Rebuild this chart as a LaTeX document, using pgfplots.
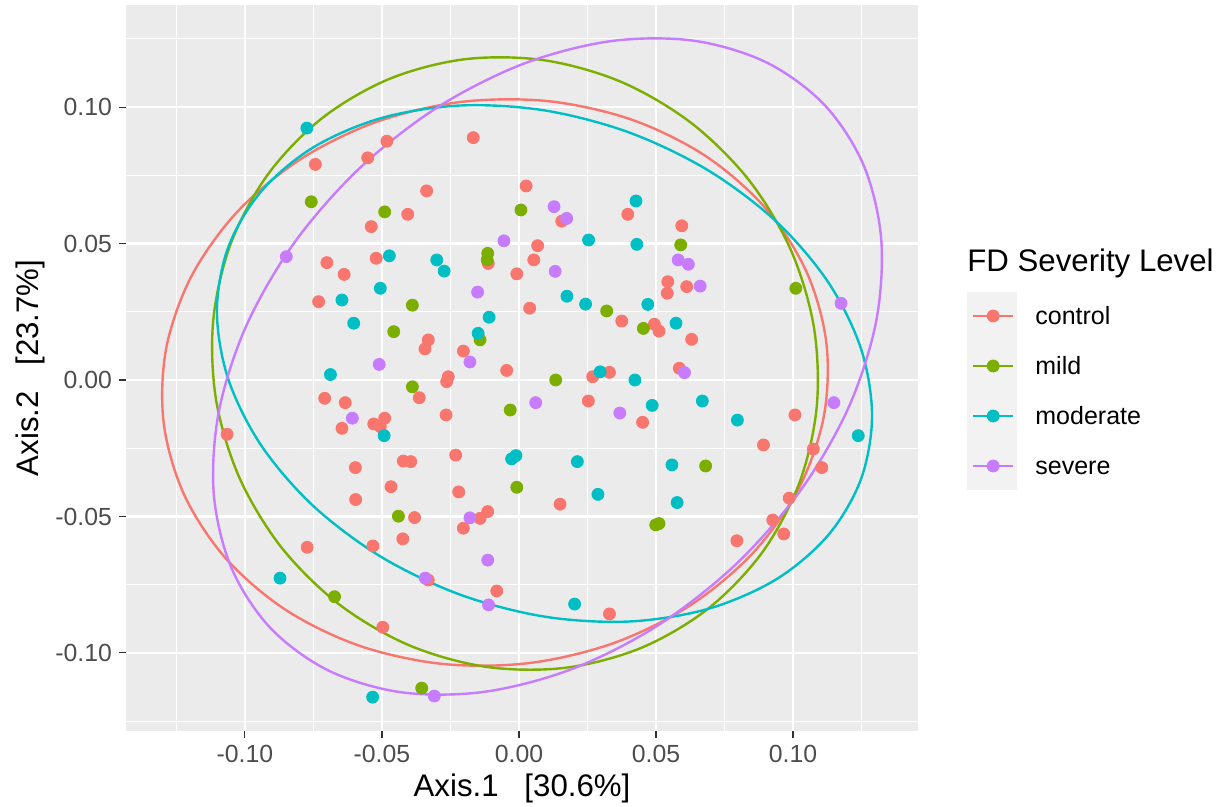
\documentclass[border=0pt]{standalone}
\usepackage{pgfplots}
\pgfplotsset{compat=1.18}
\usepackage{fontspec}
\setmainfont{Liberation Sans}
\definecolor{cCtrl}{HTML}{F8766D}
\definecolor{cMild}{HTML}{7CAE00}
\definecolor{cMod}{HTML}{00BFC4}
\definecolor{cSev}{HTML}{C77CFF}
\definecolor{panelbg}{HTML}{EBEBEB}
\definecolor{grey30}{HTML}{4D4D4D}
\definecolor{grey20}{HTML}{333333}
\definecolor{keybg}{HTML}{F2F2F2}
\begin{document}
\begin{tikzpicture}
\useasboundingbox (-63pt,-38pt) rectangle (549.5pt,365.5pt);
\fill[keybg] (420.5pt,120.5pt) rectangle (445.5pt,219.5pt);
\node[anchor=base west, inner sep=0pt, font=\fontsize{15.6}{18}\selectfont] at (420.5pt,229.6pt) {FD Severity Level};
\begin{axis}[
  scale only axis, width=396pt, height=363pt,
  xmin=-0.1434, xmax=0.1456, ymin=-0.1286, ymax=0.1374,
  axis background/.style={fill=panelbg},
  axis line style={draw=none},
  xtick={-0.1,-0.05,0,0.05,0.1}, ytick={-0.1,-0.05,0,0.05,0.1},
  minor xtick={-0.125,-0.075,-0.025,0.025,0.075,0.125},
  minor ytick={-0.125,-0.075,-0.025,0.025,0.075,0.125},
  grid=both,
  major grid style={white, line width=1.1pt},
  minor grid style={white, line width=0.55pt},
  tick align=outside, tick pos=left,
  major tick length=3.5pt, minor tick length=0pt,
  major tick style={grey20, line width=0.55pt},
  ticklabel style={font=\fontsize{12.4}{14}\selectfont, text=grey30},
  xticklabel style={/pgf/number format/fixed, /pgf/number format/fixed zerofill, /pgf/number format/precision=2, /pgf/number format/assume math mode=true},
  yticklabel style={/pgf/number format/fixed, /pgf/number format/fixed zerofill, /pgf/number format/precision=2, /pgf/number format/assume math mode=true},
  xlabel={Axis.1\hspace{0.83em}[30.6\%]},
  ylabel={Axis.2\hspace{0.83em}[23.7\%]},
  label style={font=\fontsize{15.6}{18}\selectfont},
  xlabel style={at={(axis description cs:0.5,0)}, anchor=base, yshift=-33pt, inner sep=0pt},
  ylabel style={at={(axis description cs:0,0.5)}, anchor=center, rotate=0, yshift=48pt, inner sep=0pt},
  legend cell align=left,
  legend style={at={(axis description cs:1.06818,0.58953)}, anchor=north west, draw=none, fill=none,
    inner sep=0pt, outer sep=0pt, row sep=12pt, column sep=10.5pt,
    font=\fontsize{12.5}{15}\selectfont,
    nodes={inner sep=0pt, text height=11pt, text depth=2pt}},
  legend image code/.code={\draw[mark repeat=2,mark phase=2,#1] plot coordinates {(0pt,0pt) (10pt,0pt) (20pt,0pt)};},
  pts/.style={only marks, mark=*, mark size=3.0pt, mark options={line width=0.4pt}, forget plot},
  ell/.style={line width=1.2pt, smooth cycle, tension=0.55, legend image post style={sharp plot, mark=*, mark size=3.0pt, mark options={line width=0.4pt}}},
]
% control points
\addplot[cCtrl, pts] coordinates {
(-0.0743,0.0790) (-0.0482,0.0875) (-0.0552,0.0814) (-0.0539,0.0562) (-0.0701,0.0430)
(-0.0638,0.0387) (-0.0521,0.0446) (-0.0731,0.0287) (-0.0167,0.0888) (-0.0337,0.0693)
(-0.0406,0.0607) (0.0026,0.0711) (0.0156,0.0582) (0.0397,0.0607) (-0.0112,0.0427)
(0.0068,0.0492) (0.0054,0.0440) (-0.0008,0.0389) (0.0039,0.0263) (0.0375,0.0216)
(-0.0331,0.0147) (-0.0343,0.0114) (-0.0203,0.0106) (-0.0258,0.0012) (-0.0264,-0.0006)
(-0.0045,0.0035) (0.0269,0.0012) (0.0330,0.0028) (0.0494,0.0204) (0.0511,0.0179)
(0.0594,0.0565) (0.0543,0.0360) (0.0541,0.0318) (0.0612,0.0342) (0.0630,0.0149)
(0.0585,0.0043) (-0.0709,-0.0067) (-0.0634,-0.0083) (-0.0646,-0.0177) (-0.0530,-0.0161)
(-0.0490,-0.0140) (-0.0506,-0.0171) (-0.1065,-0.0199) (-0.0597,-0.0321) (-0.0467,-0.0391)
(-0.0596,-0.0438) (-0.0773,-0.0613) (-0.0533,-0.0608) (-0.0497,-0.0906) (-0.0364,-0.0065)
(-0.0266,-0.0128) (-0.0231,-0.0275) (-0.0422,-0.0297) (-0.0395,-0.0299) (-0.0220,-0.0410)
(0.0150,-0.0455) (-0.0381,-0.0504) (-0.0142,-0.0507) (-0.0114,-0.0482) (-0.0203,-0.0543)
(-0.0424,-0.0582) (-0.0331,-0.0733) (-0.0081,-0.0773) (0.0330,-0.0857) (0.0253,-0.0077)
(0.0451,-0.0155) (0.1007,-0.0128) (0.0892,-0.0238) (0.1074,-0.0253) (0.1105,-0.0321)
(0.0986,-0.0433) (0.0926,-0.0513) (0.0966,-0.0564) (0.0795,-0.0589)
};
% mild points
\addplot[cMild, pts] coordinates {
(-0.0758,0.0653) (-0.0490,0.0616) (-0.0457,0.0177) (0.0007,0.0623) (-0.0114,0.0464)
(-0.0116,0.0440) (-0.0389,0.0274) (-0.0142,0.0147) (0.0320,0.0253) (0.0454,0.0189)
(0.0590,0.0495) (0.1010,0.0336) (0.0134,0.0000) (-0.0389,-0.0025) (-0.0032,-0.0110)
(-0.0440,-0.0499) (-0.0008,-0.0393) (0.0499,-0.0531) (0.0511,-0.0526) (0.0681,-0.0315)
(-0.0673,-0.0794) (-0.0355,-0.1129)
};
% moderate points
\addplot[cMod, pts] coordinates {
(-0.0774,0.0923) (-0.0473,0.0455) (-0.0506,0.0336) (-0.0646,0.0293) (-0.0603,0.0208)
(-0.0688,0.0020) (-0.0300,0.0440) (-0.0273,0.0399) (-0.0109,0.0230) (-0.0149,0.0171)
(0.0254,0.0513) (0.0427,0.0656) (0.0430,0.0497) (0.0175,0.0307) (0.0243,0.0278)
(0.0470,0.0277) (0.0296,0.0030) (0.0423,0.0000) (0.0573,0.0208) (0.0486,-0.0093)
(0.0669,-0.0077) (0.0797,-0.0147) (0.1238,-0.0204) (0.0558,-0.0311) (0.0577,-0.0449)
(-0.0492,-0.0204) (-0.0027,-0.0289) (-0.0011,-0.0277) (0.0213,-0.0299) (0.0288,-0.0419)
(0.0203,-0.0821) (-0.0872,-0.0726) (-0.0534,-0.1162)
};
% severe points
\addplot[cSev, pts] coordinates {
(-0.0849,0.0452) (0.0128,0.0635) (0.0174,0.0592) (-0.0055,0.0510) (0.0132,0.0398)
(-0.0151,0.0322) (-0.0179,0.0066) (-0.0510,0.0057) (0.0581,0.0440) (0.0618,0.0424)
(0.0661,0.0344) (0.0604,0.0027) (0.0061,-0.0083) (0.0368,-0.0121) (0.1149,-0.0083)
(0.1175,0.0281) (-0.0608,-0.0140) (-0.0179,-0.0505) (-0.0114,-0.0660) (-0.0342,-0.0726)
(-0.0111,-0.0824) (-0.0309,-0.1158)
};
% ellipses
\addplot[cCtrl, ell] coordinates {
(0.11214,0.01377) (0.10481,0.03987) (0.08974,0.06320) (0.06797,0.08215) (0.04096,0.09544)
(0.01056,0.10217) (-0.02115,0.10188) (-0.05202,0.09457) (-0.07994,0.08076) (-0.10301,0.06139)
(-0.11966,0.03776) (-0.12875,0.01150) (-0.12966,-0.01561) (-0.12233,-0.04171) (-0.10726,-0.06504)
(-0.08549,-0.08399) (-0.05848,-0.09728) (-0.02808,-0.10401) (0.00363,-0.10372) (0.03450,-0.09641)
(0.06242,-0.08260) (0.08549,-0.06323) (0.10214,-0.03960) (0.11123,-0.01334)
};
\addlegendentry{control}
\addplot[cMild, ell] coordinates {
(0.06898,-0.08381) (0.08865,-0.06332) (0.10217,-0.03810) (0.10864,-0.00988) (0.10760,0.01942)
(0.09912,0.04782) (0.08380,0.07337) (0.06266,0.09432) (0.03716,0.10928) (0.00902,0.11718)
(-0.01983,0.11752) (-0.04743,0.11026) (-0.07190,0.09589) (-0.09157,0.07540) (-0.10509,0.05018)
(-0.11156,0.02196) (-0.11052,-0.00734) (-0.10204,-0.03574) (-0.08672,-0.06129) (-0.06558,-0.08224)
(-0.04008,-0.09720) (-0.01194,-0.10510) (0.01691,-0.10544) (0.04451,-0.09818)
};
\addlegendentry{mild}
\addplot[cMod, ell] coordinates {
(0.12478,-0.03637) (0.12883,-0.01301) (0.12474,0.01164) (0.11278,0.03591) (0.09378,0.05814)
(0.06900,0.07683) (0.04018,0.09070) (0.00924,0.09879) (-0.02170,0.10056) (-0.05052,0.09589)
(-0.07526,0.08510) (-0.09423,0.06891) (-0.10616,0.04845) (-0.11021,0.02509) (-0.10612,0.00044)
(-0.09416,-0.02383) (-0.07516,-0.04606) (-0.05038,-0.06475) (-0.02156,-0.07862) (0.00938,-0.08671)
(0.04032,-0.08848) (0.06914,-0.08381) (0.09388,-0.07302) (0.11285,-0.05683)
};
\addlegendentry{moderate}
\addplot[cSev, ell] coordinates {
(0.11148,0.10079) (0.09031,0.11635) (0.06370,0.12432) (0.03345,0.12415) (0.00164,0.11586)
(-0.02958,0.10001) (-0.05807,0.07769) (-0.08190,0.05041) (-0.09944,0.02002) (-0.10949,-0.01139)
(-0.11138,-0.04168) (-0.10495,-0.06879) (-0.09068,-0.09089) (-0.06951,-0.10645) (-0.04290,-0.11442)
(-0.01265,-0.11425) (0.01916,-0.10596) (0.05038,-0.09011) (0.07887,-0.06779) (0.10270,-0.04051)
(0.12024,-0.01012) (0.13029,0.02129) (0.13218,0.05158) (0.12575,0.07869)
};
\addlegendentry{severe}
\end{axis}
\end{tikzpicture}
\end{document}
